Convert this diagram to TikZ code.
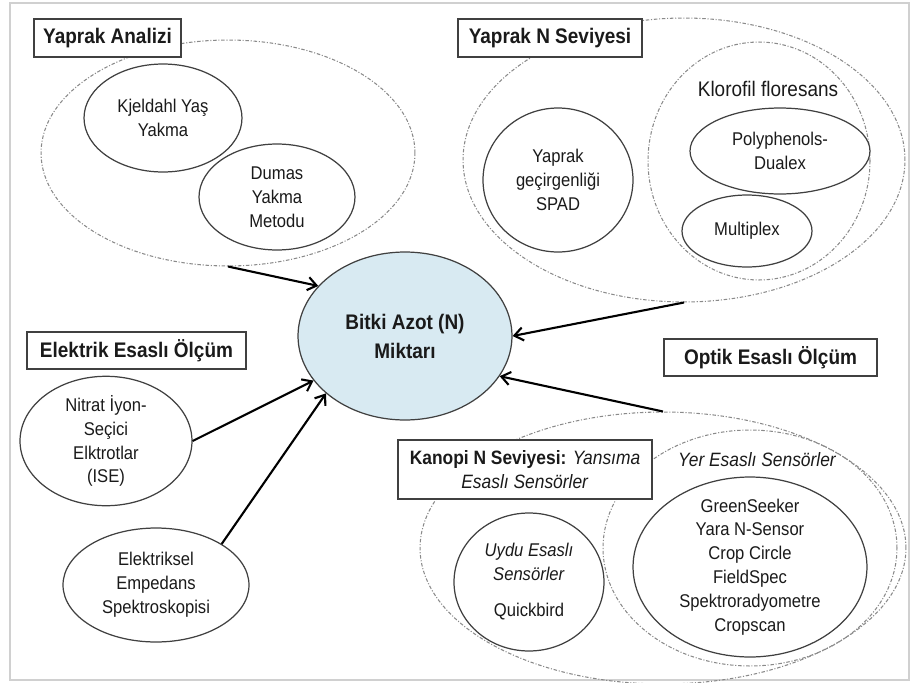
\documentclass[tikz,border=0pt]{standalone}
\usepackage{fontspec}
\setmainfont[FakeStretch=0.9]{Liberation Sans}
\usepackage{tikz}
\usetikzlibrary{arrows.meta,positioning,shapes.geometric}
\definecolor{cInk}{HTML}{1A1A1A}
\definecolor{cEdge}{HTML}{404040}
\definecolor{cDash}{HTML}{8A8A8A}
\definecolor{cFrame}{HTML}{D0D0D0}
\definecolor{cSky}{HTML}{D8EAF2}
\tikzset{
  oval/.style={ellipse,draw=cEdge,line width=0.7pt,fill=white,align=center,inner sep=0pt,text=cInk,
    font=\fontsize{10.5}{13.6}\selectfont},
  grp/.style={ellipse,draw=cDash,line width=0.6pt,dash pattern=on 2pt off 1pt on 0.6pt off 1pt,inner sep=0pt},
  ttl/.style={draw=cEdge,fill=white,line width=0.8pt,align=center,inner sep=2pt,text=cInk,
    font=\fontsize{12}{14}\selectfont\bfseries},
  lbl/.style={text=cInk,font=\fontsize{11}{13.6}\selectfont},
  arr/.style={-{Straight Barb[length=5pt,width=7.5pt]},line width=1.2pt,color=black},
}

\begin{document}
\begin{tikzpicture}[x=0.02cm,y=-0.02cm]
  \useasboundingbox (0,0) rectangle (910,683);
  \draw[cFrame,line width=0.8pt] (10,3) rectangle (909,680);
  % dashed groups
  \node[grp,minimum width=7.48cm,minimum height=4.52cm] (gLeaf) at (228,153) {};
  \node[grp,minimum width=8.84cm,minimum height=5.68cm] (gNlevel) at (684,160) {};
  \node[grp,minimum width=4.44cm,minimum height=4.76cm] (gKloro) at (759,161) {};
  \node[grp,minimum width=9.72cm,minimum height=5.44cm] (gCanopy) at (663,548) {};
  \node[grp,minimum width=5.88cm,minimum height=4.72cm] (gYer) at (750,548) {};
  % leaf analysis
  \node[oval,minimum width=3.16cm,minimum height=2.16cm] (kjel) at (163,118) {Kjeldahl Yaş\\Yakma};
  \node[oval,minimum width=3.12cm,minimum height=2.12cm] (dumas) at (277,197) {Dumas\\Yakma\\Metodu};
  % leaf N level
  \node[oval,minimum width=3.0cm,minimum height=2.88cm] (spad) at (558,180) {Yaprak\\geçirgenliği\\SPAD};
  \node[lbl,font=\fontsize{12}{14}\selectfont] (kloroLbl) at (768,89) {Klorofil floresans};
  \node[oval,minimum width=3.6cm,minimum height=1.72cm] (poly) at (780,151) {Polyphenols-\\Dualex};
  \node[oval,minimum width=2.6cm,minimum height=1.44cm] (multi) at (747,231) {Multiplex};
  % centre
  \node[oval,fill=cSky,minimum width=4.28cm,minimum height=3.36cm,font=\fontsize{12}{16.5}\selectfont\bfseries]
    (azot) at (405,336) {Bitki Azot (N)\\Miktarı};
  % electric
  \node[oval,minimum width=3.44cm,minimum height=2.32cm] (nitrat) at (106,441) {Nitrat İyon-\\Seçici\\Elktrotlar\\(ISE)};
  \node[oval,minimum width=3.72cm,minimum height=2.28cm] (elec) at (156,585) {Elektriksel\\Empedans\\Spektroskopisi};
  % canopy
  \node[lbl,font=\fontsize{11}{13.6}\selectfont\itshape] (yerLbl) at (757,460) {Yer Esaslı Sensörler};
  \node[oval,minimum width=3.0cm,minimum height=2.76cm] (uydu) at (529,582)
    {\textit{Uydu Esaslı}\\\textit{Sensörler}\\[7pt]Quickbird};
  \node[oval,minimum width=4.68cm,minimum height=3.6cm,inner ysep=-7pt] (sensors) at (750,567)
    {GreenSeeker\\Yara N-Sensor\\Crop Circle\\FieldSpec\\Spektroradyometre\\Cropscan};
  % titles
  \node[ttl,minimum width=2.94cm,minimum height=0.76cm] (boxLeaf) at (107.5,38) {Yaprak Analizi};
  \node[ttl,minimum width=3.68cm,minimum height=0.76cm] (boxN) at (550,38) {Yaprak N Seviyesi};
  \node[ttl,minimum width=4.38cm,minimum height=0.74cm] (boxElec) at (136.5,350.5) {Elektrik Esaslı Ölçüm};
  \node[ttl,minimum width=4.26cm,minimum height=0.74cm] (boxOpt) at (770.5,357.5) {Optik Esaslı Ölçüm};
  \node[ttl,minimum width=5.08cm,minimum height=1.18cm,font=\fontsize{11}{13.6}\selectfont] (boxCan) at (525,469.5)
    {\textbf{Kanopi N Seviyesi:} \textit{Yansıma}\\\textit{Esaslı Sensörler}};
  % arrows
  \draw[arr] (gLeaf.south) -- (azot.150);
  \draw[arr] (gNlevel.south) -- (azot.east);
  \draw[arr] (nitrat.east) -- (azot.206);
  \draw[arr] (elec.32) -- (azot.216);
  \draw[arr] (gCanopy.north) -- (azot.-23);
\end{tikzpicture}
\end{document}
